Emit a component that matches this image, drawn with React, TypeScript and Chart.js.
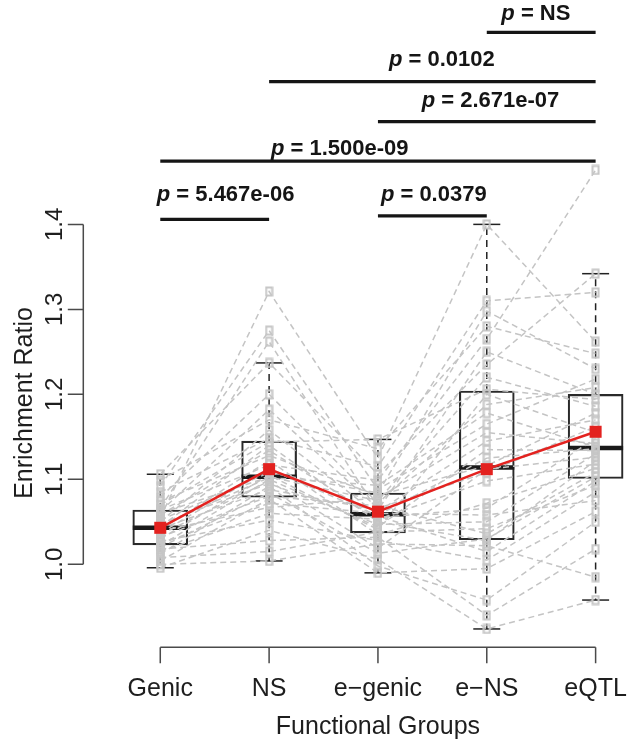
import React, { useEffect, useRef } from 'react';
import { Chart, registerables } from 'chart.js';

Chart.register(...registerables);

// ---------- data ----------
const categories = ['Genic', 'NS', 'e\u2212genic', 'e\u2212NS', 'eQTL'];
const yTickValues = [1.0, 1.1, 1.2, 1.3, 1.4];
const yTickLabels = ['1.0', '1.1', '1.2', '1.3', '1.4'];

// per-subject enrichment ratios (index = subject)
const genic = [0.996, 1.000, 1.004, 1.008, 1.012, 1.015, 1.018, 1.020, 1.022, 1.024, 1.027, 1.030, 1.032, 1.035, 1.037, 1.039, 1.041, 1.042, 1.044, 1.046, 1.048, 1.050, 1.052, 1.055, 1.058, 1.060, 1.062, 1.064, 1.066, 1.070, 1.074, 1.079, 1.085, 1.092, 1.099, 1.106];
const ns = [1.040, 1.004, 1.077, 1.015, 1.092, 1.060, 1.028, 1.084, 1.100, 1.072, 1.052, 1.105, 1.080, 1.098, 1.112, 1.067, 1.122, 1.088, 1.140, 1.102, 1.095, 1.158, 1.108, 1.321, 1.134, 1.103, 1.182, 1.117, 1.262, 1.144, 1.128, 1.200, 1.148, 1.275, 1.170, 1.237];
const egenic = [1.006, 1.024, 0.990, 1.038, 0.998, 1.053, 1.032, 1.013, 1.044, 1.060, 1.028, 1.041, 1.069, 1.019, 1.057, 1.078, 1.035, 1.064, 1.050, 1.093, 1.047, 1.058, 1.084, 1.125, 1.055, 1.075, 1.066, 1.099, 1.062, 1.147, 1.081, 1.072, 1.115, 1.088, 1.136, 1.106];
const ens = [0.924, 1.022, 0.995, 1.042, 0.958, 1.098, 0.940, 1.030, 1.135, 1.058, 1.005, 1.200, 1.036, 1.112, 1.015, 1.155, 1.072, 1.250, 1.028, 1.178, 1.050, 1.125, 1.298, 1.400, 1.066, 1.220, 1.108, 1.265, 1.145, 1.206, 1.116, 1.188, 1.310, 1.165, 1.280, 1.235];
const eqtl = [0.958, 0.985, 1.062, 1.093, 1.050, 1.118, 1.018, 1.103, 1.134, 1.075, 1.085, 1.155, 1.108, 1.126, 1.098, 1.142, 1.113, 1.200, 1.122, 1.138, 1.130, 1.136, 1.230, 1.262, 1.148, 1.186, 1.162, 1.464, 1.170, 1.194, 1.178, 1.208, 1.320, 1.218, 1.248, 1.342];

// box statistics per group
const boxQ1 = [1.023, 1.079, 1.037, 1.029, 1.101];
const boxMedian = [1.043, 1.103, 1.059, 1.114, 1.137];
const boxQ3 = [1.064, 1.145, 1.084, 1.204, 1.200];
const whiskerLow = [0.996, 1.004, 0.990, 0.924, 0.958];
const whiskerHigh = [1.106, 1.237, 1.147, 1.400, 1.342];
const groupMeans = [1.043, 1.112, 1.062, 1.112, 1.156];

// pairwise tests
const sigLabels = ['NS', '0.0102', '2.671e-07', '1.500e-09', '5.467e-06', '0.0379'];
const sigFrom = [4, 2, 3, 1, 1, 3];
const sigTo = [5, 5, 5, 5, 2, 4];

// ---------- layout (annotation placement, in data units) ----------
const sigBarLevel = [1.626, 1.568, 1.521, 1.4745, 1.406, 1.410];
const sigTextX = [4.451, 3.587, 4.034, 2.649, 1.600, 3.513];
const sigTextY = [1.648, 1.593, 1.545, 1.489, 1.4345, 1.4345];

const FONT = '"Liberation Sans", Arial, Helvetica, sans-serif';

export default function App() {
  const ref = useRef<HTMLCanvasElement>(null);

  useEffect(() => {
    const canvas = ref.current;
    if (!canvas) return;

    const pt = document.createElement('canvas');
    pt.width = 9;
    pt.height = 11;
    const g = pt.getContext('2d')!;
    g.strokeStyle = '#c6c6c6';
    g.lineWidth = 2;
    g.strokeRect(1.5, 1.5, 6, 8);

    const xs = [1, 2, 3, 4, 5];
    const subjects = genic.map((_, i) => [genic[i], ns[i], egenic[i], ens[i], eqtl[i]]);

    const datasets: any[] = [];

    // red mean line (top)
    datasets.push({
      type: 'line',
      data: groupMeans.map((v, j) => ({ x: xs[j], y: v })),
      borderColor: '#e3221f',
      borderWidth: 2.5,
      pointStyle: 'rect',
      pointRadius: 8.5,
      pointBackgroundColor: '#e3221f',
      pointBorderColor: '#e3221f',
      pointBorderWidth: 0,
      tension: 0,
      order: 0,
    });

    // significance bars
    sigLabels.forEach((_, k) => {
      datasets.push({
        type: 'line',
        data: [
          { x: sigFrom[k], y: sigBarLevel[k] },
          { x: sigTo[k], y: sigBarLevel[k] },
        ],
        borderColor: '#151515',
        borderWidth: 3.2,
        pointRadius: 0,
        order: 0,
      });
    });

    // paired subject lines with hollow squares
    subjects.forEach((vals) => {
      datasets.push({
        type: 'line',
        data: vals.map((v, j) => ({ x: xs[j], y: v })),
        borderColor: '#c4c4c4',
        borderWidth: 1.5,
        borderDash: [6, 4],
        pointStyle: pt,
        pointRadius: 5,
        tension: 0,
        order: 2,
      });
    });

    // medians
    datasets.push({
      type: 'line',
      showLine: false,
      data: boxMedian.map((v, j) => ({ x: xs[j], y: v })),
      pointStyle: 'line',
      pointRadius: 27.5,
      pointBorderWidth: 4.5,
      pointBorderColor: '#1a1a1a',
      order: 5,
    });

    // whiskers
    xs.forEach((x, j) => {
      [[boxQ3[j], whiskerHigh[j]], [boxQ1[j], whiskerLow[j]]].forEach(([a, b]) => {
        datasets.push({
          type: 'line',
          data: [{ x, y: a }, { x, y: b }],
          borderColor: '#222',
          borderWidth: 1.5,
          borderDash: [7, 5],
          pointRadius: 0,
          order: 6,
        });
      });
    });

    // whisker caps
    datasets.push({
      type: 'line',
      showLine: false,
      data: [
        ...whiskerHigh.map((v, j) => ({ x: xs[j], y: v })),
        ...whiskerLow.map((v, j) => ({ x: xs[j], y: v })),
      ],
      pointStyle: 'line',
      pointRadius: 13.5,
      pointBorderWidth: 1.5,
      pointBorderColor: '#222',
      order: 6,
    });

    // boxes
    datasets.push({
      type: 'bar',
      data: xs.map((x, j) => ({ x, y: [boxQ1[j], boxQ3[j]] })),
      backgroundColor: 'rgba(255,255,255,0)',
      borderColor: '#2a2a2a',
      borderWidth: 1.5,
      borderSkipped: false,
      barThickness: 55,
      order: 7,
    });

    const rStyle = {
      id: 'rStyle',
      afterDraw(chart: any) {
        const { ctx, scales, chartArea } = chart;
        const xS = scales.x;
        const yS = scales.y;
        ctx.save();

        // y axis
        const ax = chartArea.left + 0.3;
        ctx.strokeStyle = '#4a4a4a';
        ctx.lineWidth = 1.5;
        ctx.beginPath();
        ctx.moveTo(ax, yS.getPixelForValue(yTickValues[0]));
        ctx.lineTo(ax, yS.getPixelForValue(yTickValues[yTickValues.length - 1]));
        yTickValues.forEach((v) => {
          const py = yS.getPixelForValue(v);
          ctx.moveTo(ax, py);
          ctx.lineTo(ax - 15.5, py);
        });
        ctx.stroke();

        ctx.fillStyle = '#1e1e1e';
        ctx.font = `24px ${FONT}`;
        ctx.textAlign = 'center';
        ctx.textBaseline = 'alphabetic';
        yTickValues.forEach((v, i) => {
          const py = yS.getPixelForValue(v);
          ctx.save();
          ctx.translate(62, py);
          ctx.rotate(-Math.PI / 2);
          ctx.fillText(yTickLabels[i], 0, 0);
          ctx.restore();
        });

        ctx.font = `25px ${FONT}`;
        ctx.save();
        ctx.translate(32, 403);
        ctx.rotate(-Math.PI / 2);
        ctx.fillText('Enrichment Ratio', 0, 0);
        ctx.restore();

        // x axis
        const ay = 647.3;
        ctx.beginPath();
        ctx.moveTo(xS.getPixelForValue(1), ay);
        ctx.lineTo(xS.getPixelForValue(categories.length), ay);
        categories.forEach((_, j) => {
          const px = xS.getPixelForValue(j + 1);
          ctx.moveTo(px, ay);
          ctx.lineTo(px, ay + 16);
        });
        ctx.stroke();

        ctx.font = `25px ${FONT}`;
        categories.forEach((c, j) => {
          ctx.fillText(c, xS.getPixelForValue(j + 1), 696);
        });
        ctx.fillText('Functional Groups', xS.getPixelForValue(3), 734);

        // p-value labels
        ctx.fillStyle = '#151515';
        ctx.textBaseline = 'middle';
        ctx.textAlign = 'left';
        sigLabels.forEach((lab, k) => {
          const cx = xS.getPixelForValue(sigTextX[k]);
          const cy = yS.getPixelForValue(sigTextY[k]);
          const fp = `italic bold 22px ${FONT}`;
          const fr = `bold 22px ${FONT}`;
          const rest = ' = ' + lab;
          ctx.font = fp;
          const wp = ctx.measureText('p').width;
          ctx.font = fr;
          const wr = ctx.measureText(rest).width;
          const x0 = cx - (wp + wr) / 2;
          ctx.font = fp;
          ctx.fillText('p', x0, cy);
          ctx.font = fr;
          ctx.fillText(rest, x0 + wp, cy);
        });

        ctx.restore();
      },
    };

    const chart = new Chart(canvas, {
      type: 'line',
      data: { datasets },
      options: {
        animation: false,
        responsive: false,
        devicePixelRatio: 1,
        events: [],
        layout: { autoPadding: false, padding: { left: 83, right: 8, top: 0, bottom: 104 } },
        plugins: {
          legend: { display: false },
          tooltip: { enabled: false },
          title: { display: false },
        },
        scales: {
          x: { type: 'linear', min: 0.29, max: 5.27, display: false, offset: false },
          y: { type: 'linear', min: 0.911, max: 1.664, display: false },
        },
      },
      plugins: [rStyle],
    } as any);

    return () => chart.destroy();
  }, []);

  return (
    <div style={{ position: 'absolute', left: 0, top: 0, width: 633, height: 744, background: '#fff' }}>
      <canvas ref={ref} width={633} height={744} style={{ display: 'block' }} />
    </div>
  );
}
